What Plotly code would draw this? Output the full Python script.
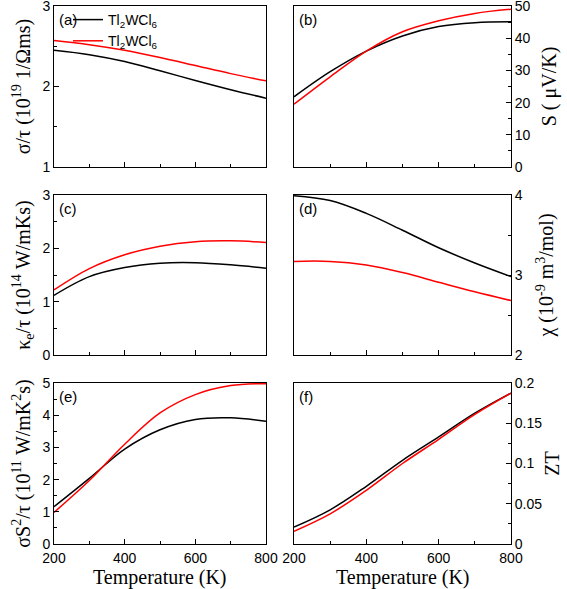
import plotly.graph_objects as go

# ---------------- data ----------------
T = [200, 300, 400, 500, 600, 700, 800]

sigma_black = [2.45, 2.395, 2.31, 2.195, 2.075, 1.96, 1.855]
sigma_red   = [2.57, 2.52, 2.45, 2.36, 2.26, 2.16, 2.07]

S_black = [21.8, 29.6, 36.0, 40.7, 43.6, 44.8, 45.1]
S_red   = [19.5, 28.0, 36.0, 42.0, 45.4, 47.7, 49.0]

kappa_black = [1.12, 1.47, 1.64, 1.72, 1.73, 1.69, 1.625]
kappa_red   = [1.22, 1.62, 1.88, 2.04, 2.125, 2.14, 2.11]

chi_black = [3.99, 3.93, 3.77, 3.56, 3.34, 3.15, 2.98]
chi_red   = [3.17, 3.17, 3.125, 3.03, 2.91, 2.79, 2.68]

pf_black = [1.16, 2.04, 2.95, 3.55, 3.87, 3.92, 3.81]
pf_red   = [0.98, 1.97, 3.10, 4.07, 4.64, 4.92, 4.98]

zt_black = [0.021, 0.0425, 0.0717, 0.104, 0.133, 0.1625, 0.1875]
zt_red   = [0.0158, 0.0375, 0.0667, 0.100, 0.130, 0.161, 0.1875]

names = ["Tl<sub>2</sub>WCl<sub>6</sub>", "Tl<sub>2</sub>WCl<sub>6</sub>"]
panel_labels = ["(a)", "(b)", "(c)", "(d)", "(e)", "(f)"]

y_titles = [
    "σ/τ (10<sup>19</sup> 1/Ωms)",
    "S ( μV/K)",
    "κ<sub>e</sub>/τ (10<sup>14</sup> W/mKs)",
    "χ (10<sup>-9</sup> m<sup>3</sup>/mol)",
    "σS<sup>2</sup>/τ (10<sup>11</sup> W/mK<sup>2</sup>s)",
    "ZT",
]
x_title = "Temperature (K)"

series = [
    (sigma_black, sigma_red),
    (S_black, S_red),
    (kappa_black, kappa_red),
    (chi_black, chi_red),
    (pf_black, pf_red),
    (zt_black, zt_red),
]

# ---------------- styling / layout ----------------
W, H = 567, 589
col_dom = [(54 / W, 266 / W), (294 / W, 511 / W)]
row_dom = [(1 - 167 / H, 1 - 6 / H), (1 - 355 / H, 1 - 195 / H), (1 - 544 / H, 1 - 383 / H)]

y_ranges = [[1, 3], [0, 50], [0, 3], [2, 4], [0, 5], [0, 0.2]]
y_dticks = [1, 10, 1, 1, 1, 0.05]
y_minor = [0.5, 5, 0.5, 0.5, 0.5, 0.025]
y_standoff = [6, 12, 6, 17, 6, 3]

SANS = "Liberation Sans"
SERIF = "Liberation Serif"
BLACK = "#000000"
RED = "#ff0000"

fig = go.Figure()
layout = dict(
    width=W, height=H,
    margin=dict(l=0, r=0, t=0, b=0, autoexpand=False),
    paper_bgcolor="white", plot_bgcolor="white",
    showlegend=True,
    annotations=[],
)

for i in range(6):
    r, c = divmod(i, 2)
    xa = "x" if i == 0 else f"x{i+1}"
    ya = "y" if i == 0 else f"y{i+1}"
    xkey = "xaxis" if i == 0 else f"xaxis{i+1}"
    ykey = "yaxis" if i == 0 else f"yaxis{i+1}"
    b, rd = series[i]
    fig.add_trace(go.Scatter(x=T, y=b, mode="lines", line=dict(color=BLACK, width=1.5, shape="spline"),
                             name=names[0], showlegend=(i == 0), xaxis=xa, yaxis=ya))
    fig.add_trace(go.Scatter(x=T, y=rd, mode="lines", line=dict(color=RED, width=1.5, shape="spline"),
                             name=names[1], showlegend=(i == 0), xaxis=xa, yaxis=ya))
    bottom = (r == 2)
    layout[xkey] = dict(
        domain=list(col_dom[c]), anchor=ya, range=[200, 800],
        tick0=200, dtick=200, ticks="inside", ticklen=5, tickwidth=1, tickcolor=BLACK,
        minor=dict(dtick=100, tick0=200, ticks="inside", ticklen=3, tickwidth=1, tickcolor=BLACK),
        showticklabels=bottom, showgrid=False, zeroline=False,
        showline=True, linecolor=BLACK, linewidth=1, mirror=True,
        ticklabelstandoff=1, ticklabeloverflow="allow",
        tickfont=dict(family=SANS, size=14, color=BLACK),
    )
    ydict = dict(
        domain=list(row_dom[r]), anchor=xa, range=y_ranges[i],
        dtick=y_dticks[i], tick0=y_ranges[i][0],
        ticks="inside", ticklen=5, tickwidth=1, tickcolor=BLACK,
        minor=dict(dtick=y_minor[i], ticks="inside", ticklen=3, tickwidth=1, tickcolor=BLACK),
        side="left" if c == 0 else "right",
        showgrid=False, zeroline=False,
        showline=True, linecolor=BLACK, linewidth=1, mirror=True,
        ticklabelstandoff=0, ticklabeloverflow="allow",
        tickfont=dict(family=SANS, size=14, color=BLACK),
        title=dict(text=y_titles[i], font=dict(family=SERIF, size=20, color=BLACK), standoff=y_standoff[i]),
    )
    if i == 5:
        ydict["tickvals"] = [0, 0.05, 0.1, 0.15, 0.2]
        ydict["ticktext"] = ["0", "0.05", "0.1", "0.15", "0.2"]
    layout[ykey] = ydict
    layout["annotations"].append(dict(
        text=panel_labels[i], xref=f"{xa} domain", yref=f"{ya} domain",
        x=0.015, y=1, xanchor="left", yanchor="top", yshift=-3, showarrow=False,
        font=dict(family=SANS, size=15, color=BLACK),
    ))
    if bottom:
        layout["annotations"].append(dict(
            text=x_title, xref=f"{xa} domain", yref="paper",
            x=0.5, y=1 - 577 / H, xanchor="center", yanchor="middle", showarrow=False,
            font=dict(family=SERIF, size=20, color=BLACK),
        ))

layout["legend"] = dict(
    x=68 / W, y=1 - 4 / H, xanchor="left", yanchor="top",
    bgcolor="rgba(0,0,0,0)", borderwidth=0,
    font=dict(family=SANS, size=14, color=BLACK),
    tracegroupgap=0, itemwidth=30,
)

fig.update_layout(**layout)
fig.write_html("out.html", config={"displayModeBar": False},
               post_script="document.body.style.margin='0px';")
